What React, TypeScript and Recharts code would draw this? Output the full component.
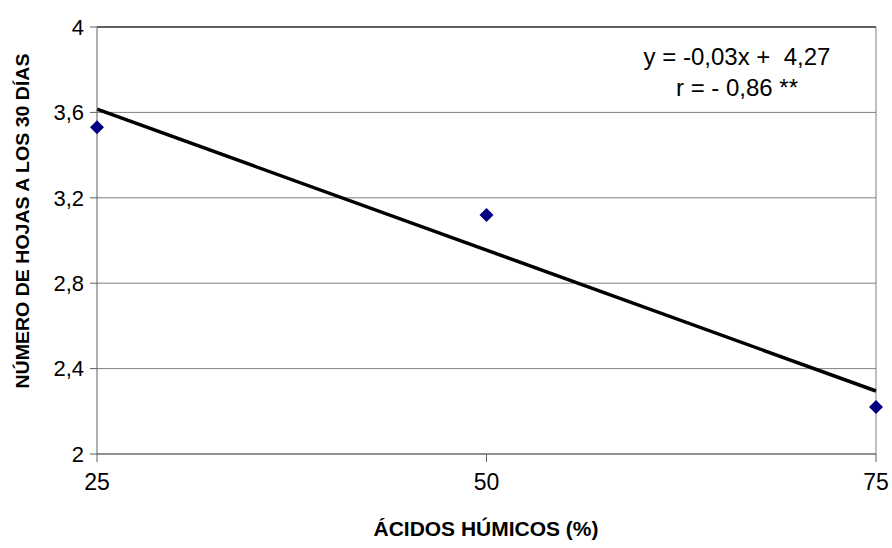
import React from 'react';
import {
  ComposedChart,
  XAxis,
  YAxis,
  CartesianGrid,
  Scatter,
  Line,
  ReferenceLine,
} from 'recharts';

const acidValues = [25, 50, 75];
const leafValues = [3.53, 3.12, 2.22];
const trendXs = [25, 75];
const trendYs = [3.615, 2.295];
const xTicks = [25, 50, 75];
const yTicks = [2, 2.4, 2.8, 3.2, 3.6, 4];
const xTitle = 'ÁCIDOS HÚMICOS (%)';
const yTitle = 'NÚMERO DE HOJAS A LOS 30 DÍAS';
const equationText = 'y = -0,03x +  4,27';
const rText = 'r = - 0,86 **';

const points = acidValues.map((x, i) => ({ x, y: leafValues[i] }));
const trend = trendXs.map((x, i) => ({ x, t: trendYs[i] }));

const FONT = '"Liberation Sans", Arial, sans-serif';

const Diamond = (props: any) => {
  const { cx, cy } = props;
  const h = 7;
  return (
    <polygon
      points={`${cx},${cy - h} ${cx + h},${cy} ${cx},${cy + h} ${cx - h},${cy}`}
      fill="#000080"
    />
  );
};

const fmt = (v: number) => (Number.isInteger(v) ? String(v) : v.toFixed(1).replace('.', ','));

export default function App() {
  return (
    <div style={{ position: 'absolute', left: 0, top: 0, width: 892, height: 548, background: '#fff' }}>
      <ComposedChart width={892} height={548} margin={{ top: 27, right: 16, left: 0, bottom: 0 }}>
        <CartesianGrid horizontal vertical={false} stroke="#808080" strokeWidth={1} />
        <XAxis
          type="number"
          dataKey="x"
          domain={[25, 75]}
          ticks={xTicks}
          height={94}
          stroke="#606060"
          tickSize={8}
          tickMargin={12}
          tick={{ fill: '#000', fontSize: 23, fontFamily: FONT }}
          label={{
            content: () => (
              <text
                x={486}
                y={536}
                textAnchor="middle"
                fontFamily={FONT}
                fontWeight="bold"
                fontSize={20}
                textLength={225}
                lengthAdjust="spacingAndGlyphs"
                fill="#000"
              >
                {xTitle}
              </text>
            ),
          }}
        />
        <YAxis
          type="number"
          domain={[2, 4]}
          ticks={yTicks}
          width={97}
          stroke="#606060"
          tickSize={7}
          tickMargin={6}
          tickFormatter={fmt}
          tick={{ fill: '#000', fontSize: 22, fontFamily: FONT }}
          label={{
            content: () => (
              <text
                x={0}
                y={0}
                transform="translate(29,221) rotate(-90)"
                textAnchor="middle"
                fontFamily={FONT}
                fontWeight="bold"
                fontSize={18}
                textLength={335}
                lengthAdjust="spacingAndGlyphs"
                fill="#000"
              >
                {yTitle}
              </text>
            ),
          }}
        />
        <ReferenceLine y={4} stroke="#000" strokeWidth={1} />
        <ReferenceLine x={75} stroke="#808080" strokeWidth={1} />
        <Line
          data={trend}
          dataKey="t"
          stroke="#000"
          strokeWidth={3.5}
          dot={false}
          isAnimationActive={false}
        />
        <Scatter data={points} dataKey="y" shape={<Diamond />} isAnimationActive={false} />
      </ComposedChart>
      <div
        style={{
          position: 'absolute',
          left: 600,
          width: 274,
          top: 41,
          textAlign: 'center',
          fontFamily: FONT,
          fontSize: 24,
          lineHeight: '31px',
          color: '#000',
          whiteSpace: 'pre',
        }}
      >
        <div>{equationText}</div>
        <div>{rText}</div>
      </div>
    </div>
  );
}
